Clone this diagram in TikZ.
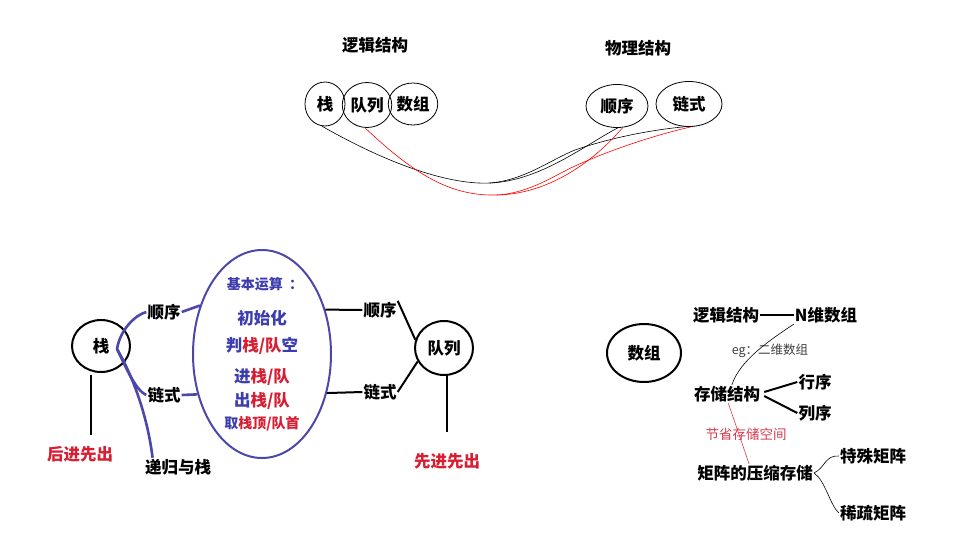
\documentclass[tikz,border=0pt]{standalone}
\usepackage{fontspec}
\setmainfont{Noto Sans CJK SC}
\usetikzlibrary{shapes.geometric}
\definecolor{eblue}{RGB}{75,72,170}
\definecolor{tblue}{RGB}{60,60,175}
\definecolor{tred}{RGB}{215,30,50}
\definecolor{lred}{RGB}{215,60,80}
\begin{document}
\begin{tikzpicture}[x=1pt,y=-1pt,
  lbl/.style={font=\fontsize{16.5}{18}\selectfont\bfseries, inner sep=1pt},
  small/.style={font=\fontsize{12.5}{14}\selectfont, inner sep=1pt},
  oval/.style={draw=black, ellipse, inner sep=0pt, line width=0.8},
  thickoval/.style={draw=black, ellipse, inner sep=0pt, line width=2},
  thin/.style={line width=0.6},
  bk/.style={line width=2, draw=black},
  bl/.style={line width=2.6, draw=eblue},
  ]
\useasboundingbox[fill=white] (0,0) rectangle (973,541);

% ---------- top ----------
\node[lbl] (lj) at (375,45) {逻辑结构};
\node[lbl] (wl) at (638,48) {物理结构};
\node[oval, minimum width=40, minimum height=44, lbl] (z) at (325,104) {栈};
\node[oval, minimum width=45, minimum height=45, lbl] (dl) at (367,105) {队列};
\node[oval, minimum width=46, minimum height=42, lbl] (sz) at (413,104) {数组};
\node[oval, minimum width=62, minimum height=43, lbl] (sx) at (617,106) {顺序};
\node[oval, minimum width=66, minimum height=45, lbl] (ls) at (689,104) {链式};

\draw[thin] (z.-98) .. controls (390,165) and (450,185) .. (490,183)
  .. controls (540,181) and (585,145) .. (sx.-88);
\draw[thin] (490,183) .. controls (525,180) and (550,160) .. (575,150)
  .. controls (610,138) and (650,130) .. (ls.-100);
\draw[thin, red] (dl.-95) .. controls (420,180) and (455,196) .. (497,195)
  .. controls (550,194) and (595,160) .. (sx.-75);
\draw[thin, red] (497,195) .. controls (530,193) and (555,175) .. (575,166)
  .. controls (610,150) and (655,135) .. (ls.-85);

% ---------- lower left ----------
\node[thickoval, minimum width=58, minimum height=52, lbl] (s2) at (101,346) {栈};
\coordinate (s2c) at (117,349);
\coordinate (s2b) at (91,375);
\node[lbl, text=tred] (hj) at (80,454) {后进先出};
\draw[bk] (s2b) -- (91,435) coordinate (hjt);
\node[lbl] (sx1) at (164,312) {顺序};
\node[lbl] (ls1) at (164,395) {链式};
\node[lbl] (dg) at (178,467) {递归与栈};

\node[draw=eblue, line width=2, ellipse, minimum width=138, minimum height=208, inner sep=0pt] (ops) at (262,354) {};
\node[lbl, text=tblue, font=\fontsize{14}{16}\selectfont\bfseries] (o0) at (265,284) {基本运算\ \ ：};
\node[lbl, text=tblue] (o1) at (262,318) {初始化};
\node[lbl] (o2) at (262,346) {{\color{tblue}判}{\color{tred}栈/队}{\color{tblue}空}};
\node[lbl] (o3) at (262,377) {{\color{tblue}进}{\color{tred}栈/队}};
\node[lbl] (o4) at (262,401) {{\color{tblue}出}{\color{tred}栈/队}};
\node[lbl, font=\fontsize{14}{16}\selectfont\bfseries] (o5) at (262,424) {{\color{tblue}取}{\color{tred}栈顶/队首}};

\draw[bl] (s2c) .. controls (120,330) and (135,315) .. (sx1.west);
\draw[bl] (s2c) .. controls (125,365) and (135,390) .. (ls1.west);
\draw[bl] (s2c) .. controls (135,380) and (148,420) .. (dg.160);
\draw[bl] (sx1.east) -- (ops.142);
\draw[bl] (ls1.east) -- (ops.212);

% ---------- lower middle ----------
\node[lbl] (sx2) at (380,310) {顺序};
\node[lbl] (ls2) at (380,392) {链式};
\node[thickoval, minimum width=58, minimum height=54, lbl] (q2) at (444,348) {队列};
\node[lbl, text=tred] (xj) at (447,461) {先进先出};
\draw[bk] (ops.35) -- (sx2.west);
\draw[bk] (ops.-31) -- (ls2.west);
\draw[bk] (sx2.north east) -- (q2.164);
\draw[bk] (ls2.east) -- (q2.207);
\draw[bk] (q2.south) ++(3,0) coordinate (q2b) -- (447,432) coordinate (xjt);

% ---------- lower right ----------
\node[thickoval, minimum width=74, minimum height=58, lbl] (arr) at (644,353) {数组};
\node[lbl] (lj2) at (726,315) {逻辑结构};
\node[lbl] (nd) at (826,315) {N维数组};
\draw[bk] (lj2.east) -- (nd.west);
\node[small, text=black!75] (eg) at (770,351) {eg：二维数组};
\node[lbl] (cc) at (727,394) {存储结构};
\draw[thin] (nd.south west) .. controls (770,340) and (740,360) .. (cc.62);
\node[lbl] (hx) at (815,382) {行序};
\node[lbl] (lx) at (815,413) {列序};
\draw[bk] (cc.east) ++(3,-2) -- (hx.west);
\draw[bk] (cc.east) ++(3,2) -- (lx.west);
\node[small, text=lred, font=\fontsize{13.5}{15}\selectfont] (jy) at (746,434) {节省存储空间};
\node[lbl] (jz) at (755,473) {矩阵的压缩存储};
\draw[thin, lred] (cc.-82) -- (jz.123);
\node[lbl] (ts) at (873,456) {特殊矩阵};
\node[lbl] (xs) at (873,513) {稀疏矩阵};
\draw[thin] (jz.east) .. controls (825,468) and (825,455) .. (ts.west);
\draw[thin] (jz.east) .. controls (825,480) and (830,505) .. (xs.west);
\end{tikzpicture}
\end{document}
